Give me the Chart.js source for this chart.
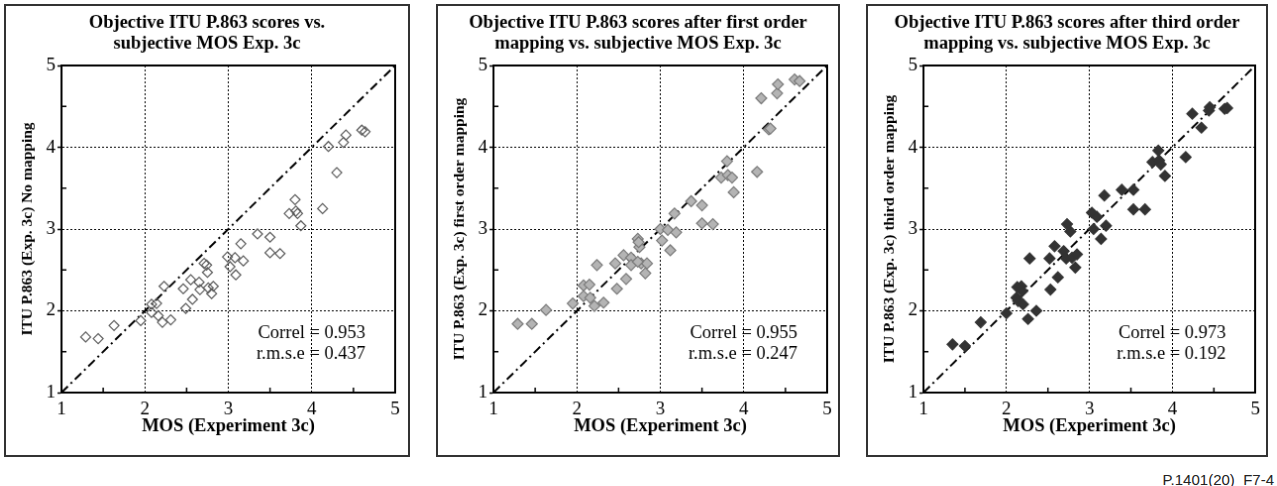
<!DOCTYPE html>
<html>
<head>
<meta charset="utf-8">
<script src="https://cdn.jsdelivr.net/npm/chart.js@4.4.1/dist/chart.umd.min.js"></script>
<style>
  body { margin: 0; background: #fff; width: 1277px; height: 486px; position: relative; overflow: hidden; }
  canvas { position: absolute; border: 2px solid #333; }
  #figref { position: absolute; right: 3px; top: 471px; line-height: 17px; font: 15px "Liberation Sans", Arial, sans-serif; color: #222; }
</style>
</head>
<body>
<canvas id="noMap" width="406" height="453" style="left:4px;top:4px"></canvas>
<canvas id="firstOrder" width="404" height="453" style="left:436px;top:4px"></canvas>
<canvas id="thirdOrder" width="402" height="453" style="left:866px;top:4px"></canvas>
<div id="figref">P.1401(20)_F7-4</div>
<script>
// MOS (x) and P.863 score (y)
const mosNoMap = [1.29, 1.44, 1.63, 1.95, 2.08, 2.14, 2.08, 2.16, 2.21, 2.31, 2.23, 2.46, 2.49, 2.55, 2.57,
  2.65, 2.66, 2.71, 2.74, 2.75, 2.76, 2.82, 2.80, 2.99, 3.02, 3.08, 3.09, 3.15, 3.18, 3.35,
  3.50, 3.50, 3.62, 3.73, 3.80, 3.81, 3.83, 3.87, 4.13, 4.20, 4.30, 4.38, 4.41, 4.60, 4.64];
const p863NoMap = [1.68, 1.66, 1.82, 1.88, 2.08, 2.09, 1.98, 1.94, 1.86, 1.89, 2.30, 2.27, 2.03, 2.38, 2.14,
  2.35, 2.26, 2.58, 2.56, 2.47, 2.28, 2.30, 2.21, 2.66, 2.54, 2.65, 2.44, 2.82, 2.61, 2.94,
  2.90, 2.71, 2.70, 3.19, 3.36, 3.22, 3.19, 3.04, 3.25, 4.01, 3.69, 4.06, 4.15, 4.21, 4.19];

const mosFirst = [1.29, 1.46, 1.63, 1.95, 2.08, 2.15, 2.08, 2.16, 2.21, 2.32, 2.24, 2.46, 2.48, 2.56, 2.59,
  2.65, 2.65, 2.73, 2.75, 2.74, 2.77, 2.84, 2.82, 2.73, 3.00, 3.02, 3.09, 3.12, 3.17, 3.19,
  3.37, 3.50, 3.50, 3.63, 3.73, 3.80, 3.81, 3.86, 3.88, 4.16, 4.21, 4.30, 4.32, 4.40, 4.41, 4.61, 4.67];
const p863First = [1.84, 1.84, 2.01, 2.09, 2.31, 2.32, 2.18, 2.16, 2.06, 2.10, 2.56, 2.58, 2.27, 2.68, 2.39,
  2.65, 2.56, 2.88, 2.78, 2.84, 2.58, 2.58, 2.46, 2.60, 3.00, 2.86, 2.99, 2.74, 3.19, 2.96,
  3.34, 3.29, 3.07, 3.06, 3.63, 3.83, 3.66, 3.63, 3.45, 3.70, 4.60, 4.22, 4.23, 4.66, 4.77, 4.83, 4.81];

const mosThird = [1.35, 1.50, 1.69, 2.00, 2.13, 2.18, 2.12, 2.14, 2.20, 2.19, 2.26, 2.36, 2.28, 2.52, 2.53,
  2.58, 2.62, 2.69, 2.73, 2.77, 2.72, 2.79, 2.85, 2.83, 3.03, 3.05, 3.09, 3.14, 3.18, 3.20,
  3.39, 3.53, 3.53, 3.67, 3.76, 3.83, 3.84, 3.86, 3.91, 4.16, 4.24, 4.35, 4.44, 4.45, 4.63, 4.66];
const p863Third = [1.59, 1.57, 1.86, 1.97, 2.29, 2.30, 2.16, 2.12, 2.08, 2.24, 1.90, 2.00, 2.64, 2.64, 2.26,
  2.79, 2.41, 2.73, 3.06, 2.97, 2.64, 2.65, 2.69, 2.53, 3.20, 3.00, 3.15, 2.88, 3.41, 3.04,
  3.48, 3.48, 3.24, 3.24, 3.82, 3.96, 3.84, 3.79, 3.65, 3.88, 4.41, 4.24, 4.45, 4.49, 4.47, 4.48];

const axisTicks = [1, 2, 3, 4, 5];
const minorTicks = [1.5, 2.5, 3.5, 4.5];
const diagonal = [1, 5];
const correl = ['0.953', '0.955', '0.973'];
const rmse = ['0.437', '0.247', '0.192'];

const serif = '"Liberation Serif", "Times New Roman", serif';
Chart.defaults.font.family = serif;
Chart.defaults.color = '#000';

function gridColor(ctx) {
    const v = ctx.tick ? ctx.tick.value : 0;
    return (v > axisTicks[0] && v < axisTicks[axisTicks.length - 1]) ? '#000' : 'rgba(0,0,0,0)';
}

function buildChart(id, titleLines, yTitle, xs, ys, statIdx, marker, padRight) {
    const points = xs.map((x, i) => ({x: x, y: ys[i]}));

    // inward half-unit ticks and the correlation text
    const extras = {
        id: 'extras',
        afterDraw(chart) {
            const {ctx, chartArea, scales} = chart;
            ctx.save();
            ctx.strokeStyle = '#000';
            ctx.lineWidth = 1.5;
            ctx.beginPath();
            minorTicks.forEach(v => {
                const px = scales.x.getPixelForValue(v);
                ctx.moveTo(px, chartArea.bottom);
                ctx.lineTo(px, chartArea.bottom - 5);
                const py = scales.y.getPixelForValue(v);
                ctx.moveTo(chartArea.left, py);
                ctx.lineTo(chartArea.left + 5, py);
            });
            ctx.stroke();

            ctx.font = '18.5px ' + serif;
            ctx.fillStyle = '#000';
            ctx.textAlign = 'right';
            ctx.textBaseline = 'middle';
            const tx = scales.x.getPixelForValue(4.645);
            ctx.fillText('Correl = ' + correl[statIdx], tx, scales.y.getPixelForValue(1.72));
            ctx.fillText('r.m.s.e = ' + rmse[statIdx], tx, scales.y.getPixelForValue(1.47));
            ctx.restore();
        }
    };

    const tickFont = {family: serif, size: 19};

    new Chart(document.getElementById(id), {
        type: 'scatter',
        data: {
            datasets: [{
                data: points,
                pointStyle: 'rectRot',
                pointRadius: marker.size,
                backgroundColor: marker.fill,
                borderColor: marker.stroke,
                borderWidth: 1.2
            }, {
                data: diagonal.map(v => ({x: v, y: v})),
                showLine: true,
                borderColor: '#000',
                borderWidth: 2,
                borderDash: [9, 4, 2, 4],
                pointRadius: 0
            }]
        },
        options: {
            responsive: false,
            animation: false,
            events: [],
            layout: {padding: 0},
            plugins: {
                legend: {display: false},
                tooltip: {enabled: false},
                title: {
                    display: true,
                    text: titleLines,
                    color: '#000',
                    font: {family: serif, size: 18.5, weight: 'bold', lineHeight: 1.12},
                    padding: {top: 6.8, bottom: 11.8}
                }
            },
            scales: {
                x: {
                    type: 'linear', min: 1, max: 5,
                    afterBuildTicks: s => { s.ticks = axisTicks.map(v => ({value: v})); },
                    ticks: {color: '#000', font: tickFont, padding: 6},
                    grid: {color: gridColor, lineWidth: 1, drawTicks: false},
                    border: {color: '#000', width: 2, dash: [2, 2]},
                    title: {
                        display: true, text: 'MOS (Experiment 3c)', color: '#000',
                        font: {family: serif, size: 18.5, weight: 'bold'}, padding: {top: 0, bottom: 18}
                    },
                    afterFit: s => { s.height = 63; }
                },
                y: {
                    type: 'linear', min: 1, max: 5,
                    afterBuildTicks: s => { s.ticks = axisTicks.map(v => ({value: v})); },
                    ticks: {color: '#000', font: tickFont, padding: 2},
                    grid: {color: gridColor, lineWidth: 1, tickLength: 4, tickColor: '#000', tickWidth: 1.5},
                    border: {color: '#000', width: 2, dash: [2, 2]},
                    title: {
                        display: true, text: yTitle, color: '#000',
                        font: {family: serif, size: 15.5, weight: 'bold'}, padding: {top: 12.7, bottom: 0}
                    },
                    afterFit: s => { s.width = 56; }
                },
                xTop: {
                    type: 'linear', position: 'top', min: 1, max: 5,
                    ticks: {display: false},
                    grid: {drawOnChartArea: false, drawTicks: false},
                    border: {color: '#000', width: 2},
                    afterFit: s => { s.height = 0; }
                },
                yRight: {
                    type: 'linear', position: 'right', min: 1, max: 5,
                    ticks: {display: false},
                    grid: {drawOnChartArea: false, drawTicks: false},
                    border: {color: '#000', width: 2},
                    afterFit: s => { s.width = padRight; }
                }
            }
        },
        plugins: [extras]
    });
}

buildChart('noMap', ['Objective ITU P.863 scores vs.', 'subjective MOS Exp. 3c'],
    'ITU P.863 (Exp. 3c) No mapping', mosNoMap, p863NoMap, 0,
    {fill: 'rgba(255,255,255,0)', stroke: '#5a5a5a', size: 5}, 13);
buildChart('firstOrder', ['Objective ITU P.863 scores after first order', 'mapping vs. subjective MOS Exp. 3c'],
    'ITU P.863 (Exp. 3c) first order mapping', mosFirst, p863First, 1,
    {fill: '#b4b4b4', stroke: '#7a7a7a', size: 5.5}, 11);
buildChart('thirdOrder', ['Objective ITU P.863 scores after third order', 'mapping vs. subjective MOS Exp. 3c'],
    'ITU P.863 (Exp. 3c) third order mapping', mosThird, p863Third, 2,
    {fill: '#333333', stroke: '#333333', size: 5.5}, 9);
</script>
</body>
</html>
